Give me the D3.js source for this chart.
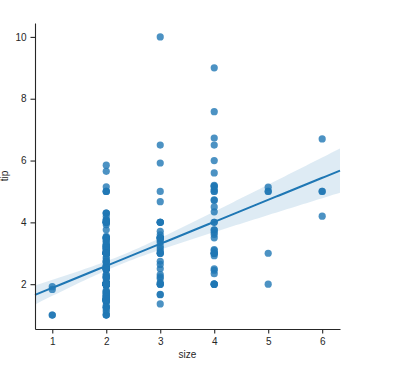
<!DOCTYPE html>
<meta charset="utf-8">
<script src="https://d3js.org/d3.v7.min.js"></script>
<style>
  body { margin: 0; background: #fff; }
  text { font-family: "Liberation Sans", Arial, sans-serif; fill: #262626; }
</style>
<body>
<div id="my_dataviz"></div>
<script>

  // party size and tip of every bill (tips dataset)
  var sizes = [2,3,3,2,4,4,2,4,2,2, 2,4,2,4,2,2,3,3,3,3, 2,2,2,4,2,4,2,2,2,2,
    2,4,2,4,2,3,3,3,3,3, 3,2,2,2,4,2,2,4,3,2, 2,2,4,2,4,2,4,2,2,4,
    2,2,2,4,3,3,2,1,2,2, 2,3,2,2,2,2,2,4,2,2, 2,2,1,2,2,4,2,2,2,2,
    2,2,2,2,2,4,2,2,2,2, 2,2,3,2,2,2,2,2,2,2, 2,1,3,2,3,2,4,2,2,4,
    2,2,2,2,2,6,2,2,2,3, 2,2,2,2,2,2,2,2,2,2, 2,6,5,6,2,2,3,2,2,2,
    2,2,3,4,4,5,6,4,2,4, 4,2,3,2,2,3,2,4,2,2, 3,2,2,2,2,2,2,2,2,2,
    4,2,3,4,2,5,3,5,3,3, 2,2,2,2,2,2,2,4,2,2, 3,2,2,2,4,3,3,4,2,2,
    3,4,4,2,3,2,5,2,2,4, 2,2,1,3,2,2,2,4,2,2, 4,3,2,2,2,2,2,2,3,3,
    2,2,2,2];

  var tips = [1.01,1.66,3.5,3.31,3.61,4.71,2,3.12,1.96,3.23,
    1.71,5,1.57,3,3.02,3.92,1.67,3.71,3.5,3.35,
    4.08,2.75,2.23,7.58,3.18,2.34,2,2,4.3,3,
    1.45,2.5,3,2.45,3.27,3.6,2,3.07,2.31,5,
    2.24,2.54,3.06,1.32,5.6,3,5,6,2.05,3,
    2.5,2.6,5.2,1.56,4.34,3.51,3,1.5,1.76,6.73,
    3.21,2,1.98,3.76,2.64,3.15,2.47,1,2.01,2.09,
    1.97,3,3.14,5,2.2,1.25,3.08,4,3,2.71,
    3,3.4,1.83,5,2.03,5.17,2,4,5.85,3,
    3,3.5,1,4.3,3.25,4.73,4,1.5,3,1.5,
    2.5,3,2.5,3.48,4.08,1.64,4.06,4.29,3.76,4,
    3,1,4,2.55,4,3.5,5.07,1.5,1.8,2.92,
    2.31,1.68,2.5,2,2.52,4.2,1.48,2,2,2.18,
    1.5,2.83,1.5,2,3.25,1.25,2,2,2,2.75,
    3.5,6.7,5,5,2.3,1.5,1.36,1.63,1.73,2,
    2.5,2,2.74,2,2,5.14,5,3.75,2.61,2,
    3.5,2.5,2,2,3,3.48,2.24,4.5,1.61,2,
    10,3.16,5.15,3.18,4,3.11,2,2,4,3.55,
    3.68,5.65,3.5,6.5,3,5,3.5,2,3.5,4,
    1.5,4.19,2.56,2.02,4,1.44,2,5,2,2,
    4,2.01,2,2.5,4,3.23,3.41,3,2.03,2.23,
    2,5.16,9,2.5,6.5,1.1,3,1.5,1.44,3.09,
    2.2,3.48,1.92,3,1.58,2.5,2,3,2.72,2.88,
    2,3,3.39,1.47,3,1.25,1,1.17,4.67,5.92,
    2,2,1.75,3];

  var xTicks = [1, 2, 3, 4, 5, 6];
  var yTicks = [2, 4, 6, 8, 10];

  var margin = { top: 23, right: 76, bottom: 44, left: 35 },
    width = 416 - margin.left - margin.right,
    height = 373 - margin.top - margin.bottom;

  var svg = d3.select("#my_dataviz")
    .append("svg")
    .attr("width", 416)
    .attr("height", 373)
    .append("g")
    .attr("transform", "translate(" + margin.left + "," + margin.top + ")");

  var x = d3.scaleLinear().domain([0.68, 6.33]).range([0, width]);
  var y = d3.scaleLinear().domain([0.55, 10.45]).range([height, 0]);

  var color = "#1f77b4";

  // least squares fit with robust (sandwich) error for the band
  var n = sizes.length;
  var mx = d3.mean(sizes), my = d3.mean(tips);
  var sxx = d3.sum(sizes, function (d) { return (d - mx) * (d - mx); });
  var sxy = d3.sum(sizes, function (d, i) { return (d - mx) * (tips[i] - my); });
  var slope = sxy / sxx, icpt = my - slope * mx;
  var resid = sizes.map(function (d, i) { return tips[i] - icpt - slope * d; });
  // (X'X)^-1
  var a = n, b = d3.sum(sizes), c = d3.sum(sizes, function (d) { return d * d; });
  var det = a * c - b * b;
  var inv = [[c / det, -b / det], [-b / det, a / det]];
  var m00 = 0, m01 = 0, m11 = 0;
  sizes.forEach(function (d, i) {
    var e2 = resid[i] * resid[i];
    m00 += e2; m01 += e2 * d; m11 += e2 * d * d;
  });
  var meat = [[m00, m01], [m01, m11]];
  function mul(A, B) {
    return [[A[0][0] * B[0][0] + A[0][1] * B[1][0], A[0][0] * B[0][1] + A[0][1] * B[1][1]],
            [A[1][0] * B[0][0] + A[1][1] * B[1][0], A[1][0] * B[0][1] + A[1][1] * B[1][1]]];
  }
  var V = mul(mul(inv, meat), inv);

  var grid = d3.range(0, 101).map(function (k) { return x.domain()[0] + (x.domain()[1] - x.domain()[0]) * k / 100; });
  var fit = grid.map(function (g) {
    var yh = icpt + slope * g;
    var se = Math.sqrt(V[0][0] + 2 * g * V[0][1] + g * g * V[1][1]);
    return { x: g, y: yh, lo: yh - 1.96 * se, hi: yh + 1.96 * se };
  });

  // scatter
  svg.selectAll("circle")
    .data(sizes)
    .enter()
    .append("circle")
    .attr("cx", function (d) { return x(d); })
    .attr("cy", function (d, i) { return y(tips[i]); })
    .attr("r", 3.6)
    .attr("fill", color)
    .attr("fill-opacity", 0.8);

  // confidence band
  svg.append("path")
    .datum(fit)
    .attr("fill", color)
    .attr("fill-opacity", 0.15)
    .attr("d", d3.area()
      .x(function (d) { return x(d.x); })
      .y0(function (d) { return y(d.lo); })
      .y1(function (d) { return y(d.hi); }));

  // regression line
  svg.append("path")
    .datum(fit)
    .attr("fill", "none")
    .attr("stroke", color)
    .attr("stroke-width", 2)
    .attr("d", d3.line()
      .x(function (d) { return x(d.x); })
      .y(function (d) { return y(d.y); }));

  // axes
  var xAxis = svg.append("g")
    .attr("transform", "translate(0," + height + ")")
    .call(d3.axisBottom(x).tickValues(xTicks).tickFormat(d3.format("d"))
      .tickSize(4.5).tickPadding(4).tickSizeOuter(0));
  var yAxis = svg.append("g")
    .call(d3.axisLeft(y).tickValues(yTicks).tickFormat(d3.format("d"))
      .tickSize(4.5).tickPadding(4).tickSizeOuter(0));

  [xAxis, yAxis].forEach(function (ax) {
    ax.select(".domain").attr("stroke", "#262626").attr("stroke-width", 1.1);
    ax.selectAll(".tick line").attr("stroke", "#262626").attr("stroke-width", 1.1);
    ax.selectAll(".tick text").attr("font-size", "10px").attr("fill", "#262626")
      .style("font-family", "'Liberation Sans', Arial, sans-serif");
  });

  svg.append("text")
    .attr("x", width / 2)
    .attr("y", height + 29)
    .attr("text-anchor", "middle")
    .attr("font-size", "10px")
    .text("size");

  svg.append("text")
    .attr("transform", "translate(-27," + (height / 2) + ")rotate(-90)")
    .attr("text-anchor", "middle")
    .attr("font-size", "10px")
    .text("tip");

</script>
</body>
